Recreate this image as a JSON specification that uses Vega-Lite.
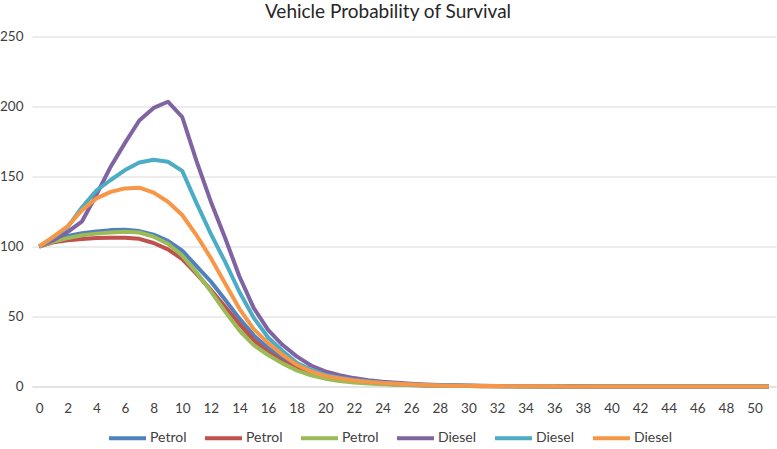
{
  "$schema": "https://vega.github.io/schema/vega-lite/v6.json",
  "width": 744,
  "height": 350,
  "autosize": {"type": "none"},
  "padding": {"left": 32, "top": 36.5, "right": 1, "bottom": 62.5},
  "background": "white",
  "config": {"view": {"stroke": null}, "font": "Lato"},
  "title": {"text": "Vehicle Probability of Survival", "anchor": "middle", "frame": "group", "dx": -16, "offset": 8, "fontSize": 19, "fontWeight": "normal", "font": "Lato", "color": "#262626"},
  "datasets": {
    "curves": [
      {"age":0,"series":"Petrol_1","value":100},{"age":1,"series":"Petrol_1","value":104},{"age":2,"series":"Petrol_1","value":107.5},{"age":3,"series":"Petrol_1","value":109.5},{"age":4,"series":"Petrol_1","value":110.8},{"age":5,"series":"Petrol_1","value":111.7},{"age":6,"series":"Petrol_1","value":112},{"age":7,"series":"Petrol_1","value":111},{"age":8,"series":"Petrol_1","value":108.5},{"age":9,"series":"Petrol_1","value":104},{"age":10,"series":"Petrol_1","value":97},{"age":11,"series":"Petrol_1","value":86},{"age":12,"series":"Petrol_1","value":75},{"age":13,"series":"Petrol_1","value":62},{"age":14,"series":"Petrol_1","value":48.5},{"age":15,"series":"Petrol_1","value":36.5},{"age":16,"series":"Petrol_1","value":27.5},{"age":17,"series":"Petrol_1","value":20.5},{"age":18,"series":"Petrol_1","value":14.5},{"age":19,"series":"Petrol_1","value":10.5},{"age":20,"series":"Petrol_1","value":7.5},{"age":21,"series":"Petrol_1","value":5.5},{"age":22,"series":"Petrol_1","value":4},{"age":23,"series":"Petrol_1","value":3},{"age":24,"series":"Petrol_1","value":2.2},{"age":25,"series":"Petrol_1","value":1.6},{"age":26,"series":"Petrol_1","value":1.2},{"age":27,"series":"Petrol_1","value":0.9},{"age":28,"series":"Petrol_1","value":0.7},{"age":29,"series":"Petrol_1","value":0.5},{"age":30,"series":"Petrol_1","value":0.4},{"age":31,"series":"Petrol_1","value":0.3},{"age":32,"series":"Petrol_1","value":0.25},{"age":33,"series":"Petrol_1","value":0.2},{"age":34,"series":"Petrol_1","value":0.15},{"age":35,"series":"Petrol_1","value":0.12},{"age":36,"series":"Petrol_1","value":0.1},{"age":37,"series":"Petrol_1","value":0.08},{"age":38,"series":"Petrol_1","value":0.06},{"age":39,"series":"Petrol_1","value":0.05},{"age":40,"series":"Petrol_1","value":0.04},{"age":41,"series":"Petrol_1","value":0.03},{"age":42,"series":"Petrol_1","value":0.03},{"age":43,"series":"Petrol_1","value":0.02},{"age":44,"series":"Petrol_1","value":0.02},{"age":45,"series":"Petrol_1","value":0.02},{"age":46,"series":"Petrol_1","value":0.01},{"age":47,"series":"Petrol_1","value":0.01},{"age":48,"series":"Petrol_1","value":0.01},{"age":49,"series":"Petrol_1","value":0.01},{"age":50,"series":"Petrol_1","value":0.01},{"age":51,"series":"Petrol_1","value":0.01},
      {"age":0,"series":"Petrol_2","value":100},{"age":1,"series":"Petrol_2","value":103},{"age":2,"series":"Petrol_2","value":104.5},{"age":3,"series":"Petrol_2","value":105.3},{"age":4,"series":"Petrol_2","value":106},{"age":5,"series":"Petrol_2","value":106.3},{"age":6,"series":"Petrol_2","value":106.3},{"age":7,"series":"Petrol_2","value":105.5},{"age":8,"series":"Petrol_2","value":102.5},{"age":9,"series":"Petrol_2","value":98},{"age":10,"series":"Petrol_2","value":91},{"age":11,"series":"Petrol_2","value":80.5},{"age":12,"series":"Petrol_2","value":69},{"age":13,"series":"Petrol_2","value":57},{"age":14,"series":"Petrol_2","value":44.5},{"age":15,"series":"Petrol_2","value":33},{"age":16,"series":"Petrol_2","value":24.5},{"age":17,"series":"Petrol_2","value":18},{"age":18,"series":"Petrol_2","value":13},{"age":19,"series":"Petrol_2","value":9.5},{"age":20,"series":"Petrol_2","value":6.8},{"age":21,"series":"Petrol_2","value":5},{"age":22,"series":"Petrol_2","value":3.7},{"age":23,"series":"Petrol_2","value":2.7},{"age":24,"series":"Petrol_2","value":2},{"age":25,"series":"Petrol_2","value":1.5},{"age":26,"series":"Petrol_2","value":1.1},{"age":27,"series":"Petrol_2","value":0.8},{"age":28,"series":"Petrol_2","value":0.6},{"age":29,"series":"Petrol_2","value":0.45},{"age":30,"series":"Petrol_2","value":0.35},{"age":31,"series":"Petrol_2","value":0.25},{"age":32,"series":"Petrol_2","value":0.2},{"age":33,"series":"Petrol_2","value":0.15},{"age":34,"series":"Petrol_2","value":0.12},{"age":35,"series":"Petrol_2","value":0.1},{"age":36,"series":"Petrol_2","value":0.08},{"age":37,"series":"Petrol_2","value":0.06},{"age":38,"series":"Petrol_2","value":0.05},{"age":39,"series":"Petrol_2","value":0.04},{"age":40,"series":"Petrol_2","value":0.03},{"age":41,"series":"Petrol_2","value":0.02},{"age":42,"series":"Petrol_2","value":0.02},{"age":43,"series":"Petrol_2","value":0.02},{"age":44,"series":"Petrol_2","value":0.01},{"age":45,"series":"Petrol_2","value":0.01},{"age":46,"series":"Petrol_2","value":0.01},{"age":47,"series":"Petrol_2","value":0.01},{"age":48,"series":"Petrol_2","value":0.01},{"age":49,"series":"Petrol_2","value":0.01},{"age":50,"series":"Petrol_2","value":0.01},{"age":51,"series":"Petrol_2","value":0.01},
      {"age":0,"series":"Petrol_3","value":100},{"age":1,"series":"Petrol_3","value":103.5},{"age":2,"series":"Petrol_3","value":106},{"age":3,"series":"Petrol_3","value":108},{"age":4,"series":"Petrol_3","value":109.2},{"age":5,"series":"Petrol_3","value":110},{"age":6,"series":"Petrol_3","value":110.5},{"age":7,"series":"Petrol_3","value":110},{"age":8,"series":"Petrol_3","value":107},{"age":9,"series":"Petrol_3","value":102},{"age":10,"series":"Petrol_3","value":93.5},{"age":11,"series":"Petrol_3","value":81.5},{"age":12,"series":"Petrol_3","value":68},{"age":13,"series":"Petrol_3","value":53.5},{"age":14,"series":"Petrol_3","value":40},{"age":15,"series":"Petrol_3","value":29.5},{"age":16,"series":"Petrol_3","value":22.5},{"age":17,"series":"Petrol_3","value":16.5},{"age":18,"series":"Petrol_3","value":11.5},{"age":19,"series":"Petrol_3","value":8},{"age":20,"series":"Petrol_3","value":5.6},{"age":21,"series":"Petrol_3","value":4},{"age":22,"series":"Petrol_3","value":2.9},{"age":23,"series":"Petrol_3","value":2.1},{"age":24,"series":"Petrol_3","value":1.6},{"age":25,"series":"Petrol_3","value":1.2},{"age":26,"series":"Petrol_3","value":0.9},{"age":27,"series":"Petrol_3","value":0.65},{"age":28,"series":"Petrol_3","value":0.5},{"age":29,"series":"Petrol_3","value":0.38},{"age":30,"series":"Petrol_3","value":0.28},{"age":31,"series":"Petrol_3","value":0.2},{"age":32,"series":"Petrol_3","value":0.15},{"age":33,"series":"Petrol_3","value":0.12},{"age":34,"series":"Petrol_3","value":0.09},{"age":35,"series":"Petrol_3","value":0.07},{"age":36,"series":"Petrol_3","value":0.05},{"age":37,"series":"Petrol_3","value":0.04},{"age":38,"series":"Petrol_3","value":0.03},{"age":39,"series":"Petrol_3","value":0.02},{"age":40,"series":"Petrol_3","value":0.02},{"age":41,"series":"Petrol_3","value":0.01},{"age":42,"series":"Petrol_3","value":0.01},{"age":43,"series":"Petrol_3","value":0.01},{"age":44,"series":"Petrol_3","value":0.01},{"age":45,"series":"Petrol_3","value":0.01},{"age":46,"series":"Petrol_3","value":0.01},{"age":47,"series":"Petrol_3","value":0.01},{"age":48,"series":"Petrol_3","value":0.01},{"age":49,"series":"Petrol_3","value":0.01},{"age":50,"series":"Petrol_3","value":0.01},{"age":51,"series":"Petrol_3","value":0.01},
      {"age":0,"series":"Diesel_1","value":100},{"age":1,"series":"Diesel_1","value":104.5},{"age":2,"series":"Diesel_1","value":110.5},{"age":3,"series":"Diesel_1","value":118},{"age":4,"series":"Diesel_1","value":137},{"age":5,"series":"Diesel_1","value":157},{"age":6,"series":"Diesel_1","value":174},{"age":7,"series":"Diesel_1","value":190},{"age":8,"series":"Diesel_1","value":199},{"age":9,"series":"Diesel_1","value":203.4},{"age":10,"series":"Diesel_1","value":192.5},{"age":11,"series":"Diesel_1","value":161},{"age":12,"series":"Diesel_1","value":132},{"age":13,"series":"Diesel_1","value":106},{"age":14,"series":"Diesel_1","value":78.6},{"age":15,"series":"Diesel_1","value":56},{"age":16,"series":"Diesel_1","value":40.5},{"age":17,"series":"Diesel_1","value":29.8},{"age":18,"series":"Diesel_1","value":21.5},{"age":19,"series":"Diesel_1","value":15},{"age":20,"series":"Diesel_1","value":10.8},{"age":21,"series":"Diesel_1","value":8},{"age":22,"series":"Diesel_1","value":6},{"age":23,"series":"Diesel_1","value":4.5},{"age":24,"series":"Diesel_1","value":3.4},{"age":25,"series":"Diesel_1","value":2.6},{"age":26,"series":"Diesel_1","value":2},{"age":27,"series":"Diesel_1","value":1.5},{"age":28,"series":"Diesel_1","value":1.15},{"age":29,"series":"Diesel_1","value":0.9},{"age":30,"series":"Diesel_1","value":0.7},{"age":31,"series":"Diesel_1","value":0.55},{"age":32,"series":"Diesel_1","value":0.42},{"age":33,"series":"Diesel_1","value":0.33},{"age":34,"series":"Diesel_1","value":0.26},{"age":35,"series":"Diesel_1","value":0.2},{"age":36,"series":"Diesel_1","value":0.16},{"age":37,"series":"Diesel_1","value":0.12},{"age":38,"series":"Diesel_1","value":0.1},{"age":39,"series":"Diesel_1","value":0.08},{"age":40,"series":"Diesel_1","value":0.06},{"age":41,"series":"Diesel_1","value":0.05},{"age":42,"series":"Diesel_1","value":0.04},{"age":43,"series":"Diesel_1","value":0.03},{"age":44,"series":"Diesel_1","value":0.03},{"age":45,"series":"Diesel_1","value":0.02},{"age":46,"series":"Diesel_1","value":0.02},{"age":47,"series":"Diesel_1","value":0.02},{"age":48,"series":"Diesel_1","value":0.01},{"age":49,"series":"Diesel_1","value":0.01},{"age":50,"series":"Diesel_1","value":0.01},{"age":51,"series":"Diesel_1","value":0.01},
      {"age":0,"series":"Diesel_2","value":100},{"age":1,"series":"Diesel_2","value":106.5},{"age":2,"series":"Diesel_2","value":114},{"age":3,"series":"Diesel_2","value":128},{"age":4,"series":"Diesel_2","value":140},{"age":5,"series":"Diesel_2","value":147.5},{"age":6,"series":"Diesel_2","value":154.6},{"age":7,"series":"Diesel_2","value":160},{"age":8,"series":"Diesel_2","value":162},{"age":9,"series":"Diesel_2","value":160.5},{"age":10,"series":"Diesel_2","value":154},{"age":11,"series":"Diesel_2","value":131},{"age":12,"series":"Diesel_2","value":109},{"age":13,"series":"Diesel_2","value":89},{"age":14,"series":"Diesel_2","value":67.5},{"age":15,"series":"Diesel_2","value":49},{"age":16,"series":"Diesel_2","value":35},{"age":17,"series":"Diesel_2","value":25.5},{"age":18,"series":"Diesel_2","value":17},{"age":19,"series":"Diesel_2","value":12},{"age":20,"series":"Diesel_2","value":8.3},{"age":21,"series":"Diesel_2","value":6.2},{"age":22,"series":"Diesel_2","value":4.6},{"age":23,"series":"Diesel_2","value":3.5},{"age":24,"series":"Diesel_2","value":2.6},{"age":25,"series":"Diesel_2","value":2},{"age":26,"series":"Diesel_2","value":1.5},{"age":27,"series":"Diesel_2","value":1.1},{"age":28,"series":"Diesel_2","value":0.85},{"age":29,"series":"Diesel_2","value":0.65},{"age":30,"series":"Diesel_2","value":0.5},{"age":31,"series":"Diesel_2","value":0.38},{"age":32,"series":"Diesel_2","value":0.3},{"age":33,"series":"Diesel_2","value":0.23},{"age":34,"series":"Diesel_2","value":0.18},{"age":35,"series":"Diesel_2","value":0.14},{"age":36,"series":"Diesel_2","value":0.11},{"age":37,"series":"Diesel_2","value":0.08},{"age":38,"series":"Diesel_2","value":0.06},{"age":39,"series":"Diesel_2","value":0.05},{"age":40,"series":"Diesel_2","value":0.04},{"age":41,"series":"Diesel_2","value":0.03},{"age":42,"series":"Diesel_2","value":0.02},{"age":43,"series":"Diesel_2","value":0.02},{"age":44,"series":"Diesel_2","value":0.02},{"age":45,"series":"Diesel_2","value":0.01},{"age":46,"series":"Diesel_2","value":0.01},{"age":47,"series":"Diesel_2","value":0.01},{"age":48,"series":"Diesel_2","value":0.01},{"age":49,"series":"Diesel_2","value":0.01},{"age":50,"series":"Diesel_2","value":0.01},{"age":51,"series":"Diesel_2","value":0.01},
      {"age":0,"series":"Diesel_3","value":100},{"age":1,"series":"Diesel_3","value":107},{"age":2,"series":"Diesel_3","value":114.5},{"age":3,"series":"Diesel_3","value":126},{"age":4,"series":"Diesel_3","value":134.4},{"age":5,"series":"Diesel_3","value":139},{"age":6,"series":"Diesel_3","value":141.5},{"age":7,"series":"Diesel_3","value":142},{"age":8,"series":"Diesel_3","value":138.5},{"age":9,"series":"Diesel_3","value":132},{"age":10,"series":"Diesel_3","value":122.5},{"age":11,"series":"Diesel_3","value":108},{"age":12,"series":"Diesel_3","value":91.7},{"age":13,"series":"Diesel_3","value":73.5},{"age":14,"series":"Diesel_3","value":55.5},{"age":15,"series":"Diesel_3","value":41},{"age":16,"series":"Diesel_3","value":31},{"age":17,"series":"Diesel_3","value":22.8},{"age":18,"series":"Diesel_3","value":15.5},{"age":19,"series":"Diesel_3","value":10.8},{"age":20,"series":"Diesel_3","value":7.6},{"age":21,"series":"Diesel_3","value":5.7},{"age":22,"series":"Diesel_3","value":4.3},{"age":23,"series":"Diesel_3","value":3.3},{"age":24,"series":"Diesel_3","value":2.5},{"age":25,"series":"Diesel_3","value":1.9},{"age":26,"series":"Diesel_3","value":1.4},{"age":27,"series":"Diesel_3","value":1.05},{"age":28,"series":"Diesel_3","value":0.8},{"age":29,"series":"Diesel_3","value":0.6},{"age":30,"series":"Diesel_3","value":0.45},{"age":31,"series":"Diesel_3","value":0.35},{"age":32,"series":"Diesel_3","value":0.27},{"age":33,"series":"Diesel_3","value":0.21},{"age":34,"series":"Diesel_3","value":0.16},{"age":35,"series":"Diesel_3","value":0.12},{"age":36,"series":"Diesel_3","value":0.1},{"age":37,"series":"Diesel_3","value":0.08},{"age":38,"series":"Diesel_3","value":0.06},{"age":39,"series":"Diesel_3","value":0.05},{"age":40,"series":"Diesel_3","value":0.04},{"age":41,"series":"Diesel_3","value":0.03},{"age":42,"series":"Diesel_3","value":0.02},{"age":43,"series":"Diesel_3","value":0.02},{"age":44,"series":"Diesel_3","value":0.02},{"age":45,"series":"Diesel_3","value":0.01},{"age":46,"series":"Diesel_3","value":0.01},{"age":47,"series":"Diesel_3","value":0.01},{"age":48,"series":"Diesel_3","value":0.01},{"age":49,"series":"Diesel_3","value":0.01},{"age":50,"series":"Diesel_3","value":0.01},{"age":51,"series":"Diesel_3","value":0.01}
    ]
  },
  "data": {"name": "curves"},
  "mark": {"type": "line", "strokeWidth": 4, "strokeJoin": "round", "strokeCap": "butt", "clip": false},
  "encoding": {
    "x": {
      "field": "age", "type": "quantitative",
      "scale": {"domain": [-0.5, 51.5], "nice": false, "zero": false},
      "axis": {"title": null, "values": [0,2,4,6,8,10,12,14,16,18,20,22,24,26,28,30,32,34,36,38,40,42,44,46,48,50], "grid": false, "ticks": false, "domain": true, "domainColor": "#D9D9D9", "domainWidth": 1, "labelFont": "Lato", "labelFontSize": 13.5, "labelColor": "#404040", "labelPadding": 15, "labelFlush": false, "labelOverlap": false}
    },
    "y": {
      "field": "value", "type": "quantitative",
      "scale": {"domain": [0, 250], "nice": false},
      "axis": {"title": null, "values": [0,50,100,150,200,250], "grid": true, "gridColor": "#D9D9D9", "gridWidth": 1, "ticks": false, "domain": false, "labelFont": "Lato", "labelFontSize": 13.5, "labelColor": "#404040", "labelPadding": 9}
    },
    "color": {
      "field": "series", "type": "nominal",
      "scale": {"domain": ["Petrol_1","Petrol_2","Petrol_3","Diesel_1","Diesel_2","Diesel_3"], "range": ["#4F81BD","#C0504D","#9BBB59","#8064A2","#4BACC6","#F79646"]},
      "legend": {"title": null, "orient": "none", "legendX": 75, "legendY": 381, "direction": "horizontal", "symbolType": "stroke", "symbolSize": 1369, "symbolStrokeWidth": 4, "labelExpr": "split(datum.label, '_')[0]", "labelFont": "Lato", "labelFontSize": 14, "labelColor": "#404040", "columnPadding": 10, "labelOffset": 2}
    }
  }
}
